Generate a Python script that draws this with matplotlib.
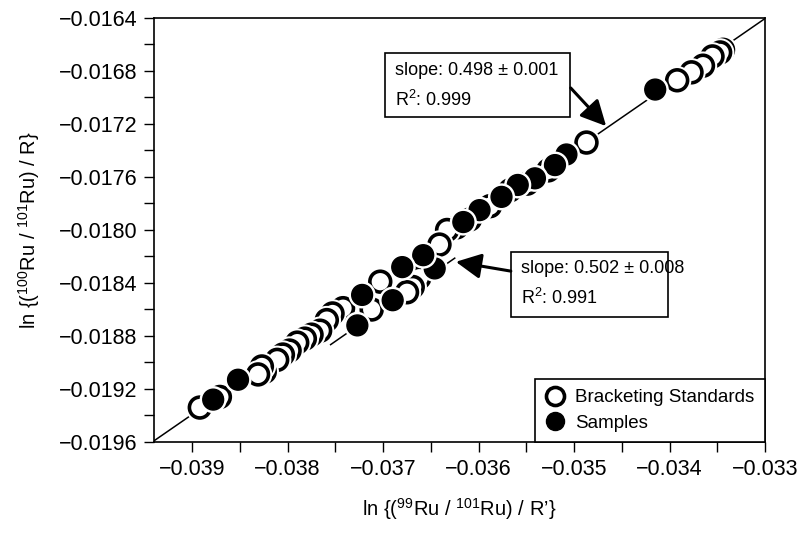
import numpy as np
import matplotlib
matplotlib.use('Agg')
import matplotlib.pyplot as plt
import matplotlib.patheffects as pe
from matplotlib.lines import Line2D
from matplotlib.patches import Rectangle
from matplotlib.ticker import MultipleLocator, FuncFormatter

plt.rcParams['font.family'] = ['Liberation Sans', 'DejaVu Sans']
plt.rcParams['mathtext.fontset'] = 'custom'
plt.rcParams['mathtext.rm'] = 'Liberation Sans'
plt.rcParams['mathtext.it'] = 'Liberation Sans:italic'
plt.rcParams['mathtext.bf'] = 'Liberation Sans:bold'

# bracketing standards (open circles)
std_x = [-0.03892, -0.03871, -0.03831, -0.03827, -0.03824, -0.03811, -0.03805, -0.03798,
         -0.03790, -0.03782, -0.03775, -0.03766, -0.03759, -0.03753, -0.03742, -0.03712,
         -0.03703, -0.03675, -0.03669, -0.03662, -0.03641, -0.03633, -0.03623, -0.03609,
         -0.03588, -0.03567, -0.03549, -0.03527, -0.03487, -0.03392, -0.03377, -0.03365,
         -0.03355, -0.03347, -0.03344]
std_y = [-0.01934, -0.01926, -0.01909, -0.01903, -0.01907, -0.01898, -0.01894, -0.01891,
         -0.01885, -0.01882, -0.01879, -0.01876, -0.01868, -0.01863, -0.01859, -0.01860,
         -0.01839, -0.01847, -0.01843, -0.01836, -0.01811, -0.01800, -0.01798, -0.01792,
         -0.01782, -0.01770, -0.01765, -0.01755, -0.01734, -0.01687, -0.01681, -0.01676,
         -0.01669, -0.01666, -0.01664]

# samples (filled circles)
smp_x = [-0.03878, -0.03852, -0.03727, -0.03722, -0.03690, -0.03680, -0.03658, -0.03646,
         -0.03616, -0.03599, -0.03576, -0.03559, -0.03541, -0.03520, -0.03508, -0.03415]
smp_y = [-0.01928, -0.01913, -0.01872, -0.01849, -0.01853, -0.01828, -0.01819, -0.01829,
         -0.01794, -0.01785, -0.01775, -0.01766, -0.01761, -0.01751, -0.01743, -0.01694]

# regression lines
std_slope, std_icpt = 0.498, 0.00003
smp_slope, smp_icpt = 0.502, -0.000015
smp_fit_range = [-0.03755, -0.03625]

fig = plt.figure(figsize=(8, 5.37), dpi=100)
ax = fig.add_axes([154/800, 95/537, 611/800, 424/537])

xlim = (-0.0394, -0.033)
ylim = (-0.0196, -0.0164)

xx = np.array(xlim)
ax.plot(xx, std_slope*xx + std_icpt, color='black', lw=1.1, zorder=1)
xs = np.array(smp_fit_range)
ax.plot(xs, smp_slope*xs + smp_icpt, color='black', lw=1.1, zorder=1)

S = 225
halo = [pe.Stroke(linewidth=5.5, foreground='white'), pe.Normal()]
for i in np.argsort(std_x)[::-1]:
    ax.scatter([std_x[i]], [std_y[i]], s=S, facecolor='white', edgecolor='black',
               linewidths=2.6, path_effects=halo, zorder=3)
for i in np.argsort(smp_x)[::-1]:
    ax.scatter([smp_x[i]], [smp_y[i]], s=S, facecolor='black', edgecolor='black',
               linewidths=1.0, path_effects=[pe.Stroke(linewidth=4.5, foreground='white'), pe.Normal()],
               zorder=4)

ax.set_xlim(xlim)
ax.set_ylim(ylim)

ax.xaxis.set_major_locator(MultipleLocator(0.001))
ax.xaxis.set_minor_locator(MultipleLocator(0.0005))
ax.yaxis.set_major_locator(MultipleLocator(0.0004))
ax.yaxis.set_minor_locator(MultipleLocator(0.0002))
ax.xaxis.set_major_formatter(FuncFormatter(lambda v, p: f'{v:.3f}'.replace('-', '\u2212')))
ax.yaxis.set_major_formatter(FuncFormatter(lambda v, p: f'{v:.4f}'.replace('-', '\u2212')))
ax.tick_params(which='both', direction='out', length=7, width=1.0, top=False, right=False)
ax.tick_params(which='major', labelsize=15.5, pad=5)
for sp in ax.spines.values():
    sp.set_linewidth(1.2)

ax.set_xlabel('ln {($^{\\mathrm{99}}$Ru / $^{\\mathrm{101}}$Ru) / R\u2019}', fontsize=14.5, labelpad=12)
ax.set_ylabel('ln {($^{\\mathrm{100}}$Ru / $^{\\mathrm{101}}$Ru) / R}', fontsize=14.5, labelpad=12)

# annotation boxes
ax.add_patch(Rectangle((0.378, 0.767), 0.303, 0.150, transform=ax.transAxes,
                       facecolor='white', edgecolor='black', lw=1.2, zorder=5))
ax.text(0.394, 0.877, 'slope: 0.498 \u00b1 0.001', transform=ax.transAxes, fontsize=13,
        va='center', zorder=6)
ax.text(0.394, 0.807, 'R$^{\\mathrm{2}}$: 0.999', transform=ax.transAxes, fontsize=13,
        va='center', zorder=6)
ax.add_patch(Rectangle((0.584, 0.295), 0.257, 0.153, transform=ax.transAxes,
                       facecolor='white', edgecolor='black', lw=1.2, zorder=5))
ax.text(0.600, 0.410, 'slope: 0.502 \u00b1 0.008', transform=ax.transAxes, fontsize=13,
        va='center', zorder=6)
ax.text(0.600, 0.340, 'R$^{\\mathrm{2}}$: 0.991', transform=ax.transAxes, fontsize=13,
        va='center', zorder=6)

arrow = dict(arrowstyle='-|>,head_length=0.7,head_width=0.35', color='black', lw=2.2,
             mutation_scale=22, shrinkA=0, shrinkB=0)
ax.annotate('', xy=(0.740, 0.745), xytext=(0.682, 0.835), xycoords='axes fraction',
            textcoords='axes fraction', arrowprops=arrow, zorder=6)
ax.annotate('', xy=(0.494, 0.425), xytext=(0.584, 0.403), xycoords='axes fraction',
            textcoords='axes fraction', arrowprops=arrow, zorder=6)

handles = [
    Line2D([], [], ls='none', marker='o', markersize=13, markerfacecolor='white',
           markeredgecolor='black', markeredgewidth=2.6),
    Line2D([], [], ls='none', marker='o', markersize=13, markerfacecolor='black',
           markeredgecolor='black'),
]
leg = ax.legend(handles, ['Bracketing Standards', 'Samples'], loc='lower right',
                borderaxespad=0, fancybox=False, framealpha=1, edgecolor='black',
                fontsize=13.5, handletextpad=0.6, labelspacing=0.45, borderpad=0.55,
                handlelength=1.0)
leg.get_frame().set_linewidth(1.2)
leg.set_zorder(7)

fig.savefig('out.png', dpi=100)
